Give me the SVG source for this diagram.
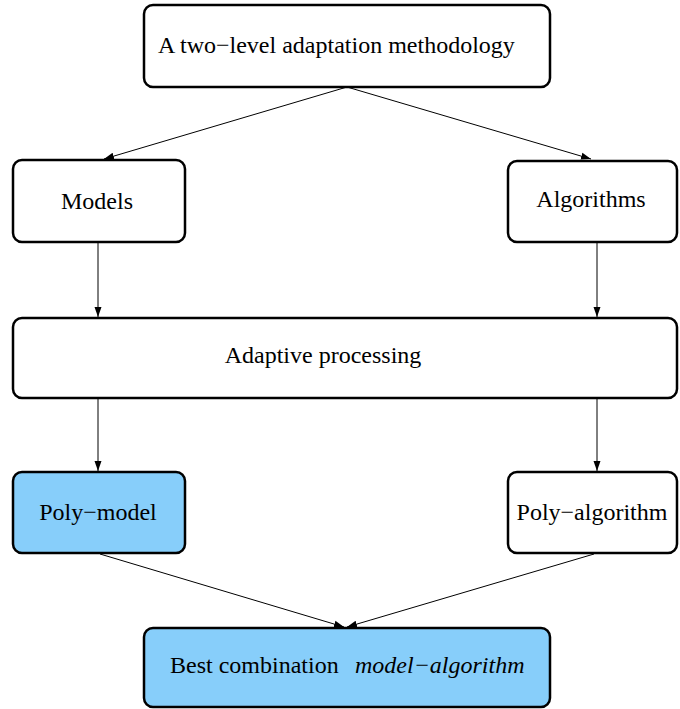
<svg xmlns="http://www.w3.org/2000/svg" width="680" height="709" viewBox="0 0 680 709">
<style>
.box{fill:#fff;stroke:#000;stroke-width:2.5}
.blue{fill:#87CEFA}
.c{text-anchor:middle}
.edge{stroke:#000;stroke-width:1;fill:none;marker-end:url(#ah)}
</style>
<defs>
<marker id="ah" viewBox="0 0 10 10" refX="10" refY="5" markerWidth="10" markerHeight="10" markerUnits="userSpaceOnUse" orient="auto">
<path d="M0,1.5 L10,5 L0,8.5 z" fill="#000"/>
</marker>
</defs>
<g id="connectors">
<line class="edge" x1="347" y1="87" x2="104" y2="159"/>
<line class="edge" x1="347" y1="87" x2="591" y2="159"/>
<line class="edge" x1="98" y1="243" x2="98" y2="317"/>
<line class="edge" x1="597" y1="243" x2="597" y2="317"/>
<line class="edge" x1="98" y1="399" x2="98" y2="471"/>
<line class="edge" x1="597" y1="399" x2="597" y2="471"/>
<line class="edge" x1="100" y1="554" x2="344" y2="627"/>
<line class="edge" x1="594" y1="554" x2="347" y2="627"/>
</g>
<g font-family="Liberation Serif, serif" font-size="24" fill="#000">
<g id="n-top">
<rect class="box" x="144" y="5" width="406" height="82" rx="9"/>
<text x="158" y="53">A two−level adaptation methodology</text>
</g>
<g id="n-models">
<rect class="box" x="13" y="160" width="172" height="82" rx="9"/>
<text class="c" x="97" y="209">Models</text>
</g>
<g id="n-algorithms">
<rect class="box" x="508" y="161" width="169" height="81" rx="9"/>
<text class="c" x="591" y="207">Algorithms</text>
</g>
<g id="n-adaptive">
<rect class="box" x="13" y="318" width="664" height="80" rx="9"/>
<text class="c" x="323" y="363">Adaptive processing</text>
</g>
<g id="n-polymodel">
<rect class="box blue" x="13" y="472" width="172" height="81" rx="9"/>
<text class="c" x="98" y="520">Poly−model</text>
</g>
<g id="n-polyalgorithm">
<rect class="box" x="508" y="472" width="169" height="81" rx="9"/>
<text class="c" x="592" y="520">Poly−algorithm</text>
</g>
<g id="n-best">
<rect class="box blue" x="144" y="628" width="406" height="79" rx="9"/>
<text x="170" y="673">Best combination</text>
<text x="355" y="673" font-style="italic">model−algorithm</text>
</g>
</g>
</svg>
